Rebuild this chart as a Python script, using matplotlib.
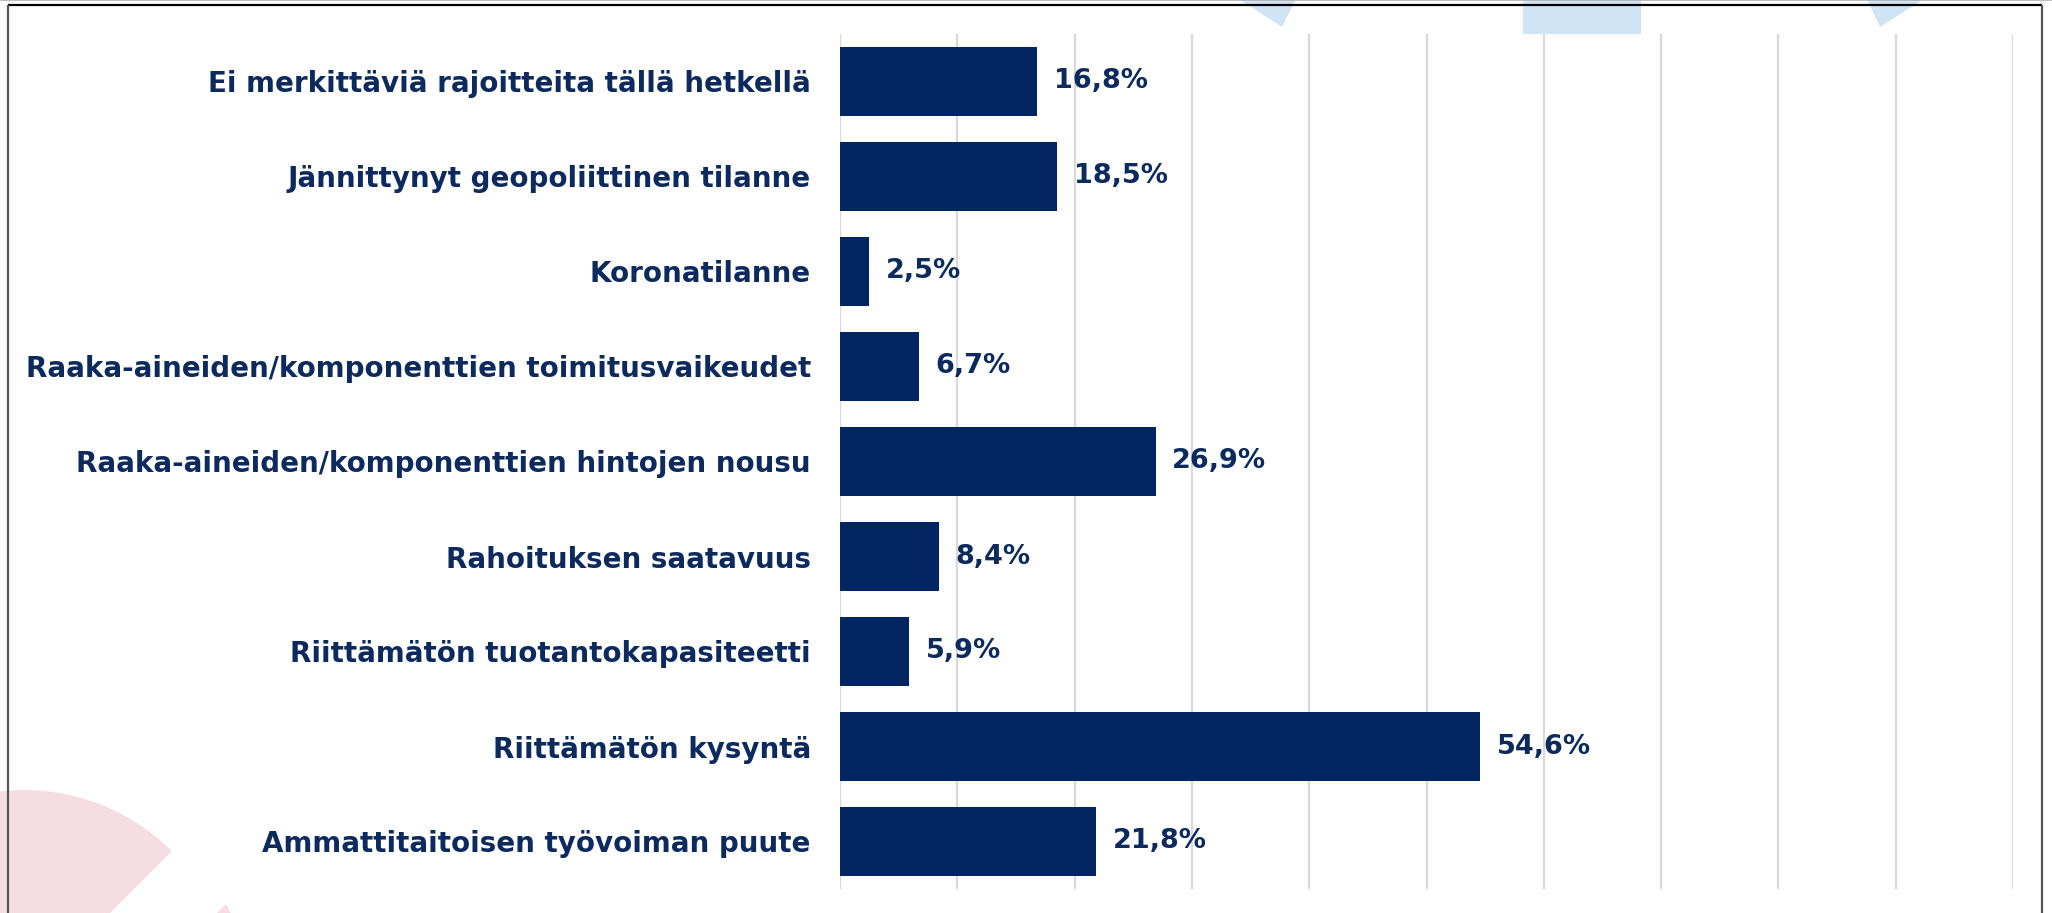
import matplotlib
matplotlib.use("Agg")
from matplotlib import pyplot as plt
from matplotlib.patches import Polygon, Wedge, Rectangle

# data, top to bottom as in the chart
categories = [
    "Ei merkittäviä rajoitteita tällä hetkellä",
    "Jännittynyt geopoliittinen tilanne",
    "Koronatilanne",
    "Raaka-aineiden/komponenttien toimitusvaikeudet",
    "Raaka-aineiden/komponenttien hintojen nousu",
    "Rahoituksen saatavuus",
    "Riittämätön tuotantokapasiteetti",
    "Riittämätön kysyntä",
    "Ammattitaitoisen työvoiman puute",
]
values = [16.8, 18.5, 2.5, 6.7, 26.9, 8.4, 5.9, 54.6, 21.8]

navy = "#002561"
text_col = "#0c2a5e"
pink = "#f5dde2"
light_blue = "#cfe4f4"

plt.rcParams['font.family'] = ['DejaVu Sans']

W, H = 2052, 913
fig = plt.figure(figsize=(W / 100, H / 100), dpi=100)
fig.patch.set_facecolor("white")

# background layer in pixel coordinates (decorations + frame)
bg = fig.add_axes([0, 0, 1, 1], zorder=0)
bg.set_xlim(0, W)
bg.set_ylim(H, 0)
bg.axis("off")
bg.add_patch(Polygon([(1233, -5), (1298, -5), (1282, 27)], closed=True,
                     facecolor=light_blue, edgecolor="none"))
bg.add_patch(Rectangle((1523, -5), 118, 39, facecolor=light_blue, edgecolor="none"))
bg.add_patch(Polygon([(1865, -5), (1930, -5), (1880, 27)], closed=True,
                     facecolor=light_blue, edgecolor="none"))
# pink logo pieces bottom-left
bg.add_patch(Wedge((24, 999), 209, 135, 315, facecolor=pink, edgecolor="none"))
bg.add_patch(Polygon([(200, 930), (226, 904), (240, 930)], closed=True,
                     facecolor=pink, edgecolor="none"))
# frame
bg.plot([0, W], [0.5, 0.5], color="#b0b0b0", lw=1.2)
bg.plot([8, 2042], [5.5, 5.5], color="black", lw=1.6, solid_capstyle="butt")
bg.plot([8, 8], [5, H + 5], color="#555555", lw=1.6, solid_capstyle="butt")
bg.plot([2042, 2042], [5, H + 5], color="#555555", lw=1.6, solid_capstyle="butt")

ax = fig.add_axes([840 / W, 1 - 889 / H, (2013 - 840) / W, (889 - 34) / H], zorder=1)
ax.patch.set_alpha(0)

y = list(range(len(categories)))
ax.barh(y, values, height=0.72, color=navy, zorder=2)
ax.set_xlim(0, 100)
ax.set_ylim(len(categories) - 0.5, -0.5)
ax.set_xticks(range(0, 101, 10))
ax.xaxis.grid(True, color="#d9d9d9", lw=1.6)
ax.set_axisbelow(True)
ax.tick_params(axis="x", length=0, labelbottom=False)
ax.tick_params(axis="y", length=0, pad=21)
ax.set_yticks(y)
ax.set_yticklabels(categories, fontsize=20, fontweight="bold", color=text_col)
for s in ax.spines.values():
    s.set_visible(False)

for i, v in enumerate(values):
    ax.annotate(f"{v:.1f}%".replace(".", ","), (v, i), xytext=(12, 0),
                textcoords="offset points", va="center", ha="left",
                fontsize=19.5, fontweight="bold", color=text_col)

fig.savefig("out.png", dpi=100)
